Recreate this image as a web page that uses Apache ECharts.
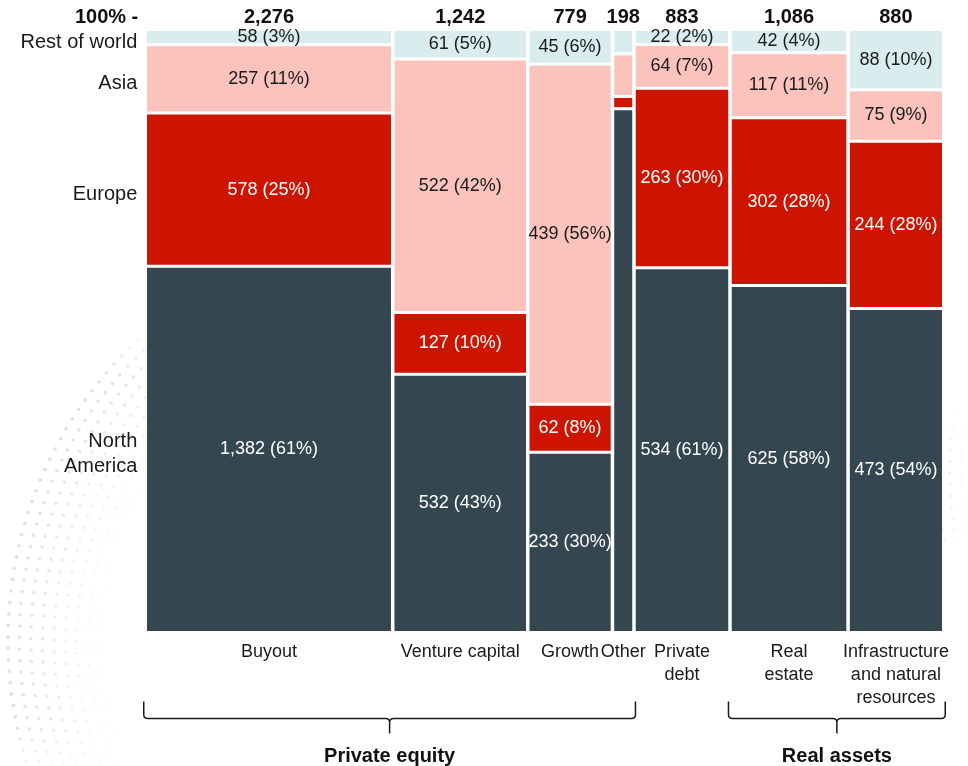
<!DOCTYPE html>
<html>
<head>
<meta charset="utf-8">
<style>
  html, body { margin: 0; padding: 0; background: #ffffff; }
  #chart { width: 968px; height: 766px; }
</style>
<script src="https://cdn.jsdelivr.net/npm/echarts@6/dist/echarts.min.js"></script>
</head>
<body>
<div id="chart"></div>
<script>
// Fundraising by strategy (column width = total) and by region (stack share)
const categories = ['Buyout', 'Venture capital', 'Growth', 'Other', 'Private\ndebt', 'Real\nestate', 'Infrastructure\nand natural\nresources'];
const totals = [2276, 1242, 779, 198, 883, 1086, 880];
const totalLabels = ['2,276', '1,242', '779', '198', '883', '1,086', '880'];

const regions = ['North\nAmerica', 'Europe', 'Asia', 'Rest of world'];
const northAmerica = [1382, 532, 233, 172, 534, 625, 473];
const europe = [578, 127, 62, 4, 263, 302, 244];
const asia = [257, 522, 439, 14, 64, 117, 75];
const restOfWorld = [58, 61, 45, 8, 22, 42, 88];

// Share labels as printed (null = no label)
const northAmericaPct = [61, 43, 30, null, 61, 58, 54];
const europePct = [25, 10, 8, null, 30, 28, 28];
const asiaPct = [11, 42, 56, null, 7, 11, 9];
const restOfWorldPct = [3, 5, 6, null, 2, 4, 10];

// Strategy groups: first and last column index
const groupNames = ['Private equity', 'Real assets'];
const groupFrom = [0, 5];
const groupTo = [3, 6];

const regionColors = ['#34464f', '#cc1400', '#fcc3bd', '#d9ecee'];
const regionText = ['#ffffff', '#ffffff', '#1a1a1a', '#1a1a1a'];
const FONT = 'Arial, "Liberation Sans", Helvetica, sans-serif';

const regionValues = [northAmerica, europe, asia, restOfWorld];
const regionPcts = [northAmericaPct, europePct, asiaPct, restOfWorldPct];

const fmt = v => v.toLocaleString('en-US');

// Build segment records: x span from cumulative totals, y span from stacked shares
const segments = [];
const columns = [];
let cum = 0;
totals.forEach((t, c) => {
  const x0 = cum, x1 = cum + t;
  cum = x1;
  columns.push([x0, x1, c]);
  const colSum = regionValues.reduce((s, arr) => s + arr[c], 0);
  let y = 0;
  regionValues.forEach((arr, r) => {
    const share = arr[c] / colSum * 100;
    segments.push({ value: [x0, x1, y, y + share, arr[c], c, r] });
    y += share;
  });
});
const grandTotal = cum;
const groupSpans = groupNames.map((n, g) => [columns[groupFrom[g]][0], columns[groupTo[g]][1], g]);

const GX = 1.75, GY = 1.5;

function renderSegment(params, api) {
  const x0 = api.value(0), x1 = api.value(1), y0 = api.value(2), y1 = api.value(3);
  const v = api.value(4), c = api.value(5), r = api.value(6);
  const p0 = api.coord([x0, y1]);
  const p1 = api.coord([x1, y0]);
  const rx = p0[0] + GX, ry = p0[1] + GY;
  const rw = p1[0] - p0[0] - 2 * GX, rh = p1[1] - p0[1] - 2 * GY;
  const children = [{
    type: 'rect',
    shape: { x: rx, y: ry, width: rw, height: rh },
    style: { fill: regionColors[r] }
  }];
  const pct = regionPcts[r][c];
  if (pct !== null) {
    children.push({
      type: 'text',
      style: {
        x: rx + rw / 2, y: ry + rh / 2,
        text: fmt(v) + ' (' + pct + '%)',
        fill: regionText[r],
        font: '18px ' + FONT,
        align: 'center', verticalAlign: 'middle'
      },
      z2: 10
    });
  }
  if (c === 0) {
    children.push({
      type: 'text',
      style: {
        x: p0[0] - 8, y: ry + rh / 2 + 5,
        text: regions[r],
        fill: '#1a1a1a',
        font: '20px ' + FONT,
        lineHeight: 25,
        align: 'right', verticalAlign: 'middle'
      }
    });
  }
  return { type: 'group', children };
}

function renderColumn(params, api) {
  const x0 = api.value(0), x1 = api.value(1), c = api.value(2);
  const top = api.coord([(x0 + x1) / 2, 100]);
  const bottom = api.coord([(x0 + x1) / 2, 0]);
  const children = [
    {
      type: 'text',
      style: {
        x: top[0], y: top[1] - 12,
        text: totalLabels[c],
        fill: '#111111',
        font: 'bold 20px ' + FONT,
        align: 'center', verticalAlign: 'middle'
      }
    },
    {
      type: 'text',
      style: {
        x: bottom[0], y: bottom[1] + 8,
        text: categories[c],
        fill: '#1a1a1a',
        font: '18px ' + FONT,
        lineHeight: 23,
        align: 'center', verticalAlign: 'top'
      }
    }
  ];
  if (c === 0) {
    children.push({
      type: 'text',
      style: {
        x: api.coord([x0, 100])[0] - 7, y: top[1] - 12,
        text: '100% -',
        fill: '#111111',
        font: 'bold 20px ' + FONT,
        align: 'right', verticalAlign: 'middle'
      }
    });
  }
  return { type: 'group', children };
}

// Curly-style bracket under a run of columns, with the group name beneath
function renderGroup(params, api) {
  const g = api.value(2);
  const a = api.coord([api.value(0), 0]);
  const b = api.coord([api.value(1), 0]);
  const xL = a[0] - 1.5, xR = b[0] + 1.5;
  const cx = (xL + xR) / 2;
  const yTop = a[1] + 69, yLine = a[1] + 86, yTip = a[1] + 101;
  const rr = 4;
  const d =
    'M' + xL + ' ' + yTop + ' L' + xL + ' ' + (yLine - rr) +
    ' Q' + xL + ' ' + yLine + ' ' + (xL + rr) + ' ' + yLine +
    ' L' + (cx - rr) + ' ' + yLine +
    ' Q' + cx + ' ' + yLine + ' ' + cx + ' ' + (yLine + rr) +
    ' L' + cx + ' ' + yTip +
    ' M' + cx + ' ' + (yLine + rr) +
    ' Q' + cx + ' ' + yLine + ' ' + (cx + rr) + ' ' + yLine +
    ' L' + (xR - rr) + ' ' + yLine +
    ' Q' + xR + ' ' + yLine + ' ' + xR + ' ' + (yLine - rr) +
    ' L' + xR + ' ' + yTop;
  return {
    type: 'group',
    children: [
      {
        type: 'path',
        shape: { pathData: d },
        style: { fill: 'none', stroke: '#1a1a1a', lineWidth: 1.5 }
      },
      {
        type: 'text',
        style: {
          x: cx, y: a[1] + 124,
          text: groupNames[g],
          fill: '#111111',
          font: 'bold 20px ' + FONT,
          align: 'center', verticalAlign: 'middle'
        }
      }
    ]
  };
}

// Decorative dotted swirl behind the chart
function dotField(cx, cy, rOuter, rInner, xMax, yMin, yMax, maxOp, gap) {
  const dots = [];
  const rings = Math.floor((rOuter - rInner) / gap);
  for (let k = 0; k < rings; k++) {
    const r = rOuter - k * gap;
    const op = maxOp * Math.pow(1 - k / rings, 1.1);
    const step = gap / r;
    for (let a = Math.PI * 0.5 + (k % 2) * step / 2; a < Math.PI * 1.5; a += step) {
      const x = cx + r * Math.cos(a);
      const y = cy - r * Math.sin(a);
      if (x < -3 || x > xMax || y < yMin || y > yMax) continue;
      const fade = Math.min(1, (y - yMin) / 50) * Math.min(1, (yMax - y) / 80 + 0.35);
      dots.push({
        type: 'circle',
        shape: { cx: x, cy: y, r: 1.8 },
        style: { fill: '#cdd5d9', opacity: op * fade },
        silent: true,
        z: -10
      });
    }
  }
  return dots;
}

const chart = echarts.init(document.getElementById('chart'), null, { renderer: 'canvas' });

const graphics = []
  .concat(dotField(420, 640, 412, 300, 146, 325, 770, 0.7, 11.5))
  .concat(dotField(1310, 470, 372, 335, 975, 400, 545, 0.5, 11.5));

chart.setOption({
  backgroundColor: '#ffffff',
  animation: false,
  grid: { left: 145.25, right: 24.25, top: 29.5, bottom: 133.5 },
  xAxis: { type: 'value', min: 0, max: grandTotal, show: false },
  yAxis: { type: 'value', min: 0, max: 100, show: false },
  graphic: graphics,
  series: [
    {
      type: 'custom',
      name: 'segments',
      renderItem: renderSegment,
      encode: { x: [0, 1], y: [2, 3] },
      data: segments,
      clip: false,
      z: 3
    },
    {
      type: 'custom',
      name: 'columns',
      renderItem: renderColumn,
      encode: { x: [0, 1] },
      data: columns,
      clip: false,
      z: 4
    },
    {
      type: 'custom',
      name: 'groups',
      renderItem: renderGroup,
      encode: { x: [0, 1] },
      data: groupSpans,
      clip: false,
      z: 4
    }
  ]
});
</script>
</body>
</html>
